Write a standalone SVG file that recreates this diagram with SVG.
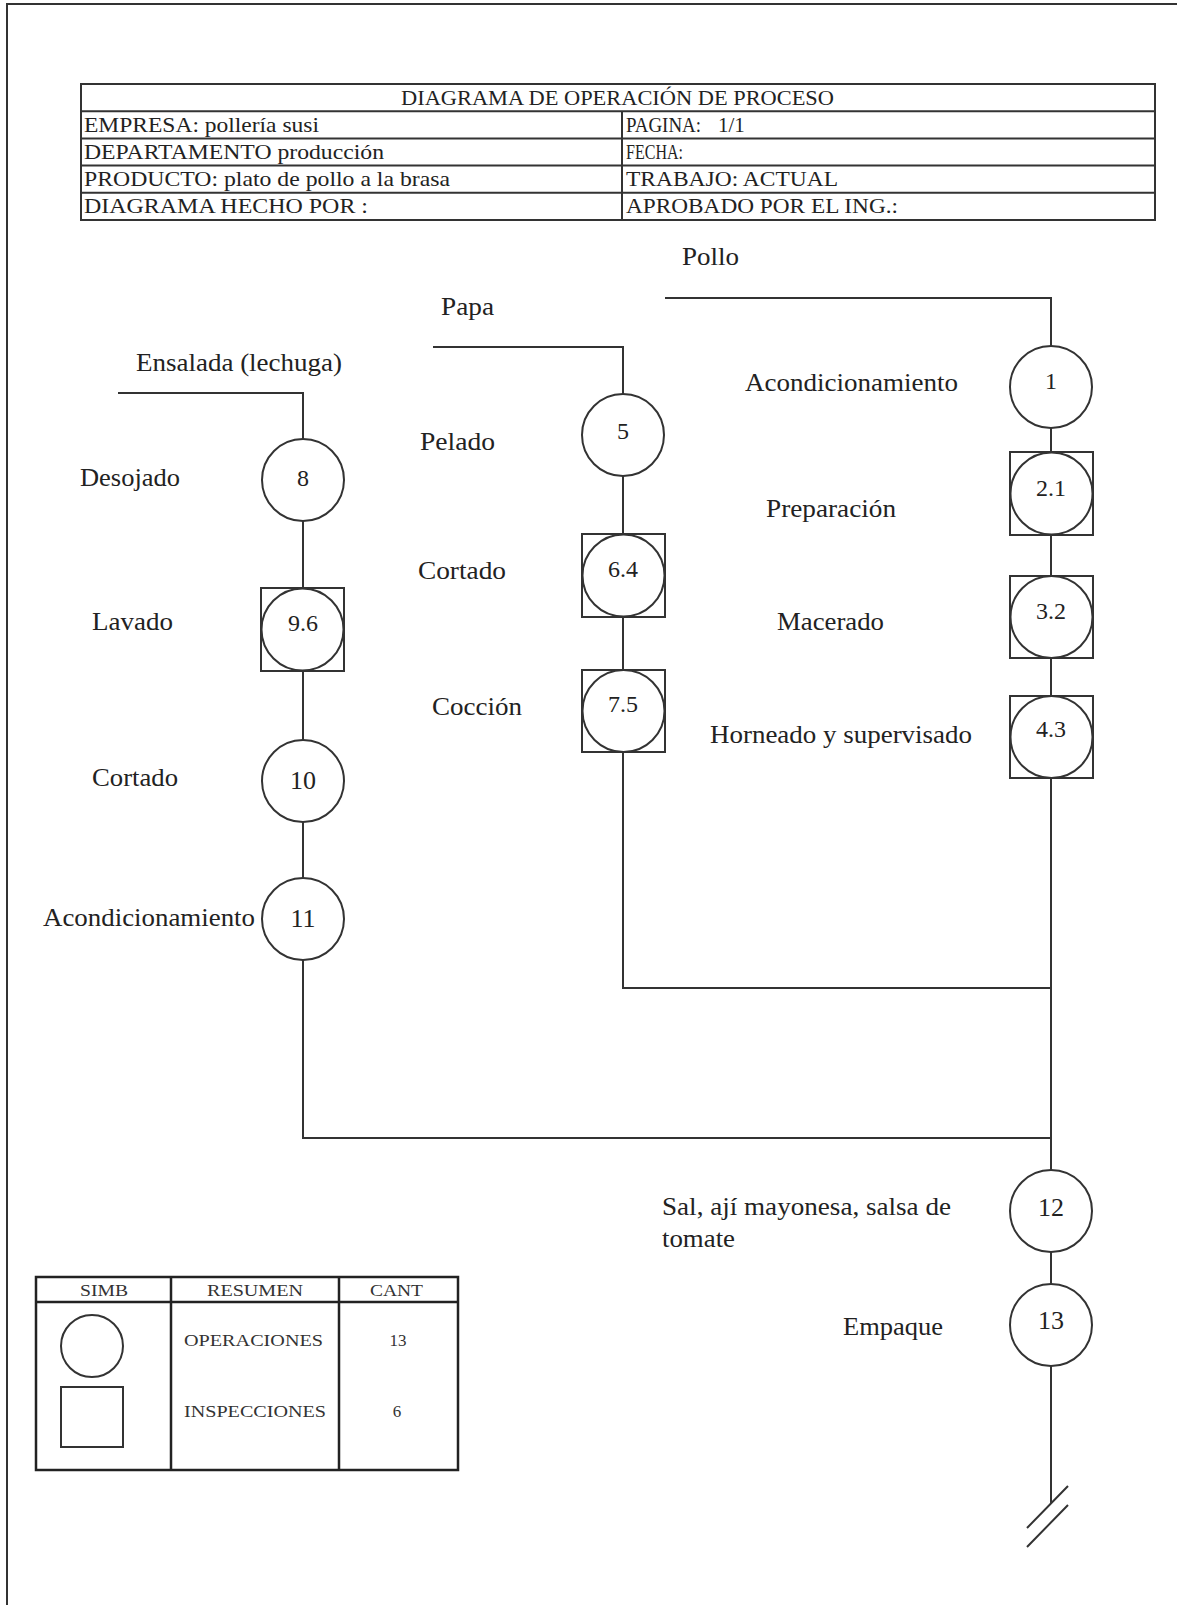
<svg xmlns="http://www.w3.org/2000/svg" width="1177" height="1605" viewBox="0 0 1177 1605">
<style>
.ln{fill:none;stroke:#333;stroke-width:2}
.sh{fill:#fff;stroke:#333;stroke-width:2}
.lg{fill:none;stroke:#222;stroke-width:2.5}
text{font-family:"Liberation Serif","Times New Roman",serif;fill:#222}
.hd{font-size:21px}
.lb{font-size:25px}
.nm{font-size:24px;text-anchor:middle}
.nm2{font-size:26px;text-anchor:middle}
.sm{font-size:17px;fill:#333}
.smc{font-size:17px;fill:#333;text-anchor:middle}
</style>
<rect width="1177" height="1605" fill="#fff"/>
<g id="page-border"><path class="ln" d="M7 1605 V4 H1177"/></g>

<g id="header">
<rect class="ln" x="81" y="84" width="1074" height="136"/>
<path class="ln" d="M81 111.2 H1155 M81 138.4 H1155 M81 165.6 H1155 M81 192.8 H1155 M622 111.2 V220"/>
<text class="hd" x="401" y="105" textLength="433" lengthAdjust="spacingAndGlyphs">DIAGRAMA DE OPERACIÓN DE PROCESO</text>
<text class="hd" x="84" y="132" textLength="235" lengthAdjust="spacingAndGlyphs">EMPRESA: pollería susi</text>
<text class="hd" x="626" y="132" textLength="75" lengthAdjust="spacingAndGlyphs">PAGINA:</text>
<text class="hd" x="718" y="132">1/1</text>
<text class="hd" x="84" y="159" textLength="300" lengthAdjust="spacingAndGlyphs">DEPARTAMENTO producción</text>
<text class="hd" x="626" y="159" textLength="57" lengthAdjust="spacingAndGlyphs">FECHA:</text>
<text class="hd" x="84" y="186" textLength="366" lengthAdjust="spacingAndGlyphs">PRODUCTO:  plato de pollo a la brasa</text>
<text class="hd" x="626" y="186" textLength="212" lengthAdjust="spacingAndGlyphs">TRABAJO: ACTUAL</text>
<text class="hd" x="84" y="213" textLength="284" lengthAdjust="spacingAndGlyphs">DIAGRAMA HECHO POR :</text>
<text class="hd" x="626" y="213" textLength="272" lengthAdjust="spacingAndGlyphs">APROBADO POR EL ING.:</text>
</g>

<g id="connectors">
<path class="ln" d="M665 298 H1051 V346"/>
<path class="ln" d="M1051 428 V452"/>
<path class="ln" d="M1051 535 V576"/>
<path class="ln" d="M1051 658 V696"/>
<path class="ln" d="M1051 778 V1170"/>
<path class="ln" d="M433 347 H623 V394"/>
<path class="ln" d="M623 476 V534"/>
<path class="ln" d="M623 617 V670"/>
<path class="ln" d="M623 752 V988 H1051"/>
<path class="ln" d="M118 393 H303 V439"/>
<path class="ln" d="M303 521 V588"/>
<path class="ln" d="M303 671 V740"/>
<path class="ln" d="M303 822 V878"/>
<path class="ln" d="M303 960 V1138 H1051"/>
<path class="ln" d="M1051 1252 V1284"/>
<path class="ln" d="M1051 1366 V1503"/>
<path class="ln" d="M1068 1486 L1027 1528 M1068 1505 L1027 1547"/>
</g>

<g id="labels">
<text class="lb" x="682" y="265" textLength="57" lengthAdjust="spacingAndGlyphs">Pollo</text>
<text class="lb" x="441" y="315" textLength="53" lengthAdjust="spacingAndGlyphs">Papa</text>
<text class="lb" x="136" y="371" textLength="206" lengthAdjust="spacingAndGlyphs">Ensalada (lechuga)</text>
<text class="lb" x="662" y="1215" textLength="289" lengthAdjust="spacingAndGlyphs">Sal, ají mayonesa, salsa de</text>
<text class="lb" x="662" y="1247" textLength="73" lengthAdjust="spacingAndGlyphs">tomate</text>
</g>

<g id="n1"><circle class="sh" cx="1051" cy="387" r="41"/><text class="nm" x="1051" y="389">1</text>
<text class="lb" x="745" y="391" textLength="213" lengthAdjust="spacingAndGlyphs">Acondicionamiento</text></g>
<g id="n2-1"><rect class="sh" x="1010" y="452" width="83" height="83"/><circle class="sh" cx="1051.5" cy="493.5" r="41"/><text class="nm" x="1051" y="496">2.1</text>
<text class="lb" x="766" y="517" textLength="130" lengthAdjust="spacingAndGlyphs">Preparación</text></g>
<g id="n3-2"><rect class="sh" x="1010" y="576" width="83" height="82"/><circle class="sh" cx="1051.5" cy="617" r="41"/><text class="nm" x="1051" y="619">3.2</text>
<text class="lb" x="777" y="630" textLength="107" lengthAdjust="spacingAndGlyphs">Macerado</text></g>
<g id="n4-3"><rect class="sh" x="1010" y="696" width="83" height="82"/><circle class="sh" cx="1051.5" cy="737" r="41"/><text class="nm" x="1051" y="737">4.3</text>
<text class="lb" x="710" y="743" textLength="262" lengthAdjust="spacingAndGlyphs">Horneado y supervisado</text></g>

<g id="n5"><circle class="sh" cx="623" cy="435" r="41"/><text class="nm" x="623" y="439">5</text>
<text class="lb" x="420" y="450" textLength="75" lengthAdjust="spacingAndGlyphs">Pelado</text></g>
<g id="n6-4"><rect class="sh" x="582" y="534" width="83" height="83"/><circle class="sh" cx="623.5" cy="575.5" r="41"/><text class="nm" x="623" y="577">6.4</text>
<text class="lb" x="418" y="579" textLength="88" lengthAdjust="spacingAndGlyphs">Cortado</text></g>
<g id="n7-5"><rect class="sh" x="582" y="670" width="83" height="82"/><circle class="sh" cx="623.5" cy="711" r="41"/><text class="nm" x="623" y="712">7.5</text>
<text class="lb" x="432" y="715" textLength="90" lengthAdjust="spacingAndGlyphs">Cocción</text></g>

<g id="n8"><circle class="sh" cx="303" cy="480" r="41"/><text class="nm" x="303" y="486">8</text>
<text class="lb" x="80" y="486" textLength="100" lengthAdjust="spacingAndGlyphs">Desojado</text></g>
<g id="n9-6"><rect class="sh" x="261" y="588" width="83" height="83"/><circle class="sh" cx="302.5" cy="629.5" r="41"/><text class="nm" x="303" y="631">9.6</text>
<text class="lb" x="92" y="630" textLength="81" lengthAdjust="spacingAndGlyphs">Lavado</text></g>
<g id="n10"><circle class="sh" cx="303" cy="781" r="41"/><text class="nm2" x="303" y="789">10</text>
<text class="lb" x="92" y="786" textLength="86" lengthAdjust="spacingAndGlyphs">Cortado</text></g>
<g id="n11"><circle class="sh" cx="303" cy="919" r="41"/><text class="nm2" x="303" y="927">11</text>
<text class="lb" x="43" y="926" textLength="212" lengthAdjust="spacingAndGlyphs">Acondicionamiento</text></g>

<g id="n12"><circle class="sh" cx="1051" cy="1211" r="41"/><text class="nm2" x="1051" y="1216">12</text></g>
<g id="n13"><circle class="sh" cx="1051" cy="1325" r="41"/><text class="nm2" x="1051" y="1329">13</text>
<text class="lb" x="843" y="1335" textLength="100" lengthAdjust="spacingAndGlyphs">Empaque</text></g>

<g id="legend">
<rect class="lg" x="36" y="1277" width="422" height="193"/>
<path class="lg" d="M36 1302 H458 M171 1277 V1470 M339 1277 V1470"/>
<text class="sm" x="80" y="1296" textLength="48" lengthAdjust="spacingAndGlyphs">SIMB</text>
<text class="sm" x="207" y="1296" textLength="96" lengthAdjust="spacingAndGlyphs">RESUMEN</text>
<text class="sm" x="370" y="1296" textLength="53" lengthAdjust="spacingAndGlyphs">CANT</text>
<circle class="ln" cx="92" cy="1346" r="31"/>
<rect class="ln" x="61" y="1387" width="62" height="60"/>
<text class="sm" x="184" y="1346" textLength="139" lengthAdjust="spacingAndGlyphs">OPERACIONES</text>
<text class="smc" x="398" y="1346">13</text>
<text class="sm" x="184" y="1417" textLength="142" lengthAdjust="spacingAndGlyphs">INSPECCIONES</text>
<text class="smc" x="397" y="1417">6</text>
</g>
</svg>
